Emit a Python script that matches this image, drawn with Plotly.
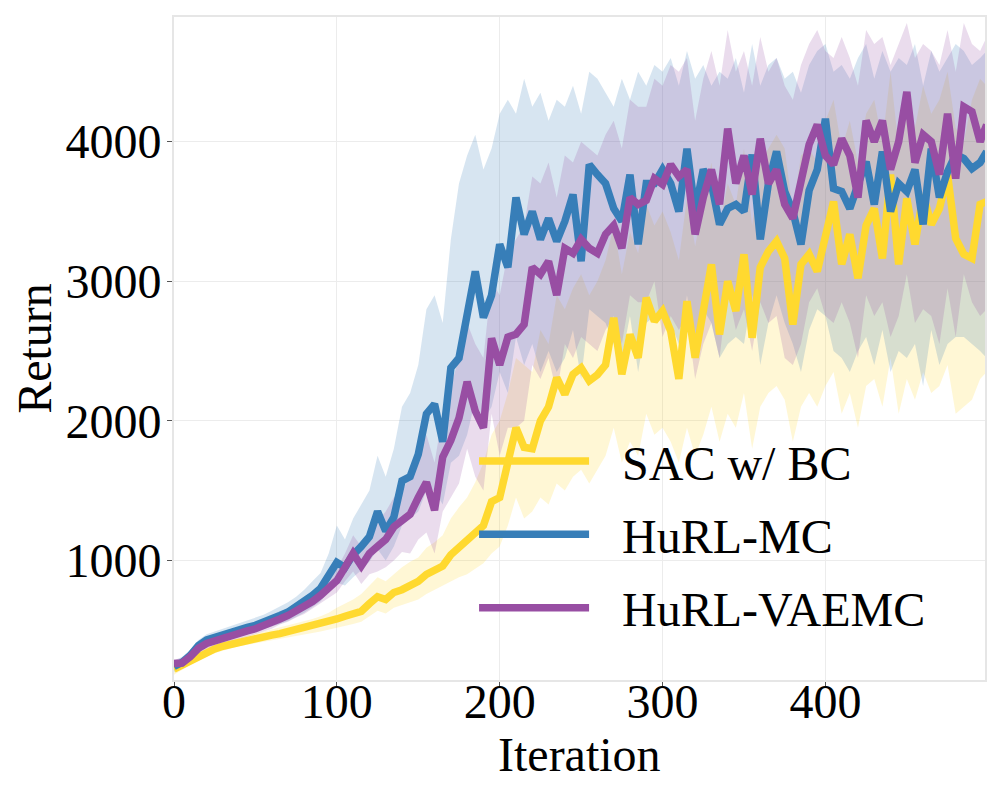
import plotly.graph_objects as go

# iterations sampled every 5 steps (plus the last one)
iters = list(range(0, 500, 5)) + [499]

# -----------------------------
# mean return per method
# -----------------------------
sac_bc = [220, 250, 280, 320, 345, 365, 385, 400, 415, 430, 440, 455, 465, 475, 490, 500, 510, 525, 545, 560,
          580, 600, 615, 635, 690, 740, 720, 770, 790, 820, 850, 900, 930, 960, 1040, 1090, 1140, 1190, 1250, 1420,
          1450, 1700, 1950, 1810, 1800, 2000, 2100, 2309, 2190, 2333, 2380, 2286, 2330, 2400, 2738, 2333, 2619, 2452, 2881, 2714,
          2786, 2643, 2300, 2857, 2452, 2786, 3121, 2619, 3000, 2786, 3193, 2595, 3100, 3214, 3286, 3164, 2690, 3121, 3193, 3071,
          3350, 3571, 3121, 3336, 3021, 3400, 3521, 3164, 3764, 3121, 3593, 3264, 3621, 3407, 3520, 3764, 3307, 3193, 3164, 3550, 3571]

hurl_mc = [240, 270, 320, 390, 430, 450, 465, 485, 500, 520, 535, 555, 580, 605, 630, 665, 700, 750, 800, 900,
           985, 950, 1040, 1100, 1170, 1350, 1210, 1310, 1570, 1600, 1760, 2050, 2120, 1850, 2380, 2450, 2740, 3070, 2740, 2900,
           3264, 3100, 3600, 3336, 3500, 3300, 3450, 3286, 3429, 3621, 3143, 3836, 3764, 3700, 3521, 3429, 3764, 3264, 3700, 3700,
           3800, 3700, 3500, 3950, 3500, 3800, 3700, 3407, 3521, 3550, 3500, 3907, 3300, 3700, 3929, 3643, 3500, 3264, 3650, 3800,
           4164, 3664, 3643, 3520, 3693, 3857, 3550, 3929, 3500, 3700, 3643, 3800, 3407, 3950, 3600, 3786, 3907, 3879, 3807, 3850, 3929]

hurl_vaemc = [262, 265, 310, 370, 405, 425, 440, 460, 475, 495, 510, 530, 550, 580, 605, 635, 665, 705, 750, 800,
              855, 950, 1050, 960, 1050, 1100, 1150, 1240, 1280, 1330, 1450, 1560, 1360, 1740, 1860, 2020, 2280, 2070, 1950, 2590,
              2400, 2600, 2620, 2690, 3100, 3050, 3143, 2900, 3236, 3200, 3300, 3236, 3200, 3336, 3400, 3236, 3600, 3550, 3580, 3736,
              3693, 3836, 3750, 3800, 3336, 3600, 3800, 3550, 4093, 3700, 3900, 3621, 4021, 3700, 3800, 3550, 3450, 3700, 3979, 4121,
              3900, 3836, 4021, 3900, 3600, 4150, 4000, 4150, 3800, 4000, 4357, 3850, 4050, 4000, 3764, 4200, 3736, 4250, 4214, 4000, 4121]

# -----------------------------
# shaded spread (upper / lower)
# -----------------------------
sac_bc_hi = [250, 285, 310, 350, 375, 395, 415, 430, 445, 460, 475, 490, 500, 515, 530, 545, 560, 580, 600, 625,
             660, 690, 720, 760, 820, 880, 850, 900, 950, 990, 1020, 1090, 1130, 1180, 1300, 1380, 1450, 1560, 1700, 1900,
             2000, 2200, 2450, 2400, 2350, 2650, 2550, 2900, 2800, 2950, 3050, 2900, 3000, 3150, 3400, 3050, 3350, 3200, 3550, 3400,
             3500, 3350, 3150, 3600, 3250, 3550, 3850, 3400, 3700, 3550, 3950, 3400, 3850, 3950, 4050, 3950, 3500, 3900, 3950, 3850,
             4150, 4300, 3950, 4150, 3850, 4200, 4300, 4000, 4500, 3950, 4350, 4100, 4400, 4200, 4300, 4500, 4100, 4000, 4300, 4450, 4400]
sac_bc_lo = [180, 215, 250, 290, 315, 335, 355, 370, 385, 400, 410, 420, 430, 440, 450, 460, 470, 480, 490, 505,
             520, 530, 545, 560, 600, 640, 620, 660, 680, 700, 720, 760, 790, 820, 850, 880, 900, 940, 980, 1050,
             1100, 1250, 1450, 1300, 1350, 1450, 1400, 1550, 1500, 1600, 1650, 1550, 1650, 1750, 1950, 1700, 1850, 1750, 2050, 1900,
             1950, 1850, 1700, 1950, 1750, 1900, 2100, 1850, 2050, 1950, 2200, 1800, 2100, 2200, 2250, 2150, 1850, 2100, 2200, 2100,
             2250, 2350, 2050, 2200, 1950, 2250, 2300, 2100, 2450, 2050, 2300, 2150, 2350, 2200, 2250, 2400, 2050, 2100, 2150, 2300, 2350]

hurl_mc_hi = [280, 310, 360, 430, 470, 490, 505, 525, 545, 565, 585, 610, 640, 670, 700, 740, 790, 850, 910, 1050,
              1250, 1150, 1300, 1400, 1500, 1750, 1600, 1800, 2100, 2200, 2400, 2800, 2900, 2700, 3300, 3700, 3900, 4050, 3800, 3950,
              4200, 4300, 4200, 4450, 4250, 4350, 4150, 4300, 4250, 4400, 4200, 4500, 4450, 4350, 4250, 4450, 4300, 4500, 4400, 4550,
              4500, 4600, 4400, 4650, 4450, 4550, 4400, 4500, 4450, 4600, 4350, 4700, 4400, 4550, 4600, 4450, 4500, 4350, 4550, 4650,
              4700, 4500, 4550, 4450, 4600, 4700, 4450, 4650, 4500, 4600, 4550, 4700, 4400, 4650, 4500, 4600, 4700, 4650, 4550, 4600, 4650]
hurl_mc_lo = [200, 230, 280, 350, 390, 410, 425, 445, 460, 475, 490, 505, 525, 545, 565, 595, 625, 665, 705, 780,
              840, 820, 880, 930, 990, 1080, 1000, 1100, 1250, 1300, 1350, 1500, 1500, 1400, 1700, 1750, 1900, 2150, 2000, 2100,
              2350, 2200, 2600, 2400, 2550, 2350, 2500, 2350, 2450, 2650, 2300, 2800, 2750, 2700, 2550, 2450, 2750, 2350, 2700, 2750,
              2800, 2700, 2550, 2900, 2550, 2800, 2700, 2450, 2550, 2600, 2550, 2900, 2400, 2700, 2900, 2700, 2550, 2350, 2650, 2800,
              2750, 2500, 2450, 2350, 2500, 2600, 2400, 2650, 2350, 2500, 2450, 2550, 2250, 2650, 2400, 2550, 2600, 2600, 2550, 2500, 2450]

hurl_vaemc_hi = [290, 300, 345, 410, 445, 465, 480, 500, 515, 535, 550, 570, 590, 620, 650, 680, 715, 760, 810, 870,
                 940, 1050, 1180, 1100, 1200, 1280, 1350, 1450, 1500, 1600, 1750, 1900, 1700, 2050, 2250, 2450, 2700, 2550, 2450, 3000,
                 2900, 3200, 3300, 3400, 3750, 3700, 3850, 3600, 3900, 3850, 4000, 3950, 3900, 4050, 4150, 3950, 4300, 4250, 4250, 4450,
                 4400, 4550, 4500, 4600, 4150, 4450, 4650, 4400, 4800, 4500, 4650, 4400, 4750, 4500, 4600, 4400, 4300, 4550, 4700, 4800,
                 4650, 4600, 4750, 4600, 4400, 4800, 4700, 4750, 4550, 4700, 4850, 4600, 4700, 4650, 4550, 4800, 4500, 4850, 4700, 4650, 4750]
hurl_vaemc_lo = [230, 235, 275, 330, 365, 385, 400, 420, 435, 455, 470, 490, 510, 540, 560, 590, 615, 650, 690, 730,
                 770, 850, 920, 830, 900, 920, 950, 1000, 1060, 1050, 1150, 1200, 1050, 1350, 1450, 1550, 1800, 1600, 1500, 2050,
                 1750, 1950, 1950, 2000, 2400, 2300, 2450, 2200, 2550, 2450, 2600, 2550, 2500, 2650, 2750, 2550, 2900, 2850, 2850, 3000,
                 2600, 2750, 2650, 2750, 2300, 2550, 2700, 2450, 2950, 2650, 2800, 2500, 2850, 2700, 2750, 2450, 2400, 2550, 2850, 2950,
                 2750, 2700, 2850, 2700, 2450, 2900, 2750, 2850, 2600, 2750, 3050, 2700, 2800, 2750, 2550, 2950, 2600, 3050, 2850, 2750, 2800]

series = [
    ("SAC w/ BC", sac_bc, sac_bc_hi, sac_bc_lo, "#ffd92f", "rgba(255,217,47,0.2)"),
    ("HuRL-MC", hurl_mc, hurl_mc_hi, hurl_mc_lo, "#377eb8", "rgba(55,126,184,0.2)"),
    ("HuRL-VAEMC", hurl_vaemc, hurl_vaemc_hi, hurl_vaemc_lo, "#984ea3", "rgba(152,78,163,0.2)"),
]

fig = go.Figure()

# shaded bands first
for name, mean, hi, lo, color, fill in series:
    fig.add_trace(go.Scatter(
        x=iters + iters[::-1],
        y=hi + lo[::-1],
        fill="toself",
        fillcolor=fill,
        line=dict(width=0),
        hoverinfo="skip",
        showlegend=False,
    ))

# then mean lines (en space + hair space pushes the label away from the swatch)
for name, mean, hi, lo, color, fill in series:
    fig.add_trace(go.Scatter(
        x=iters,
        y=mean,
        mode="lines",
        name="\u2002\u200a" + name,
        legendgroup=name,
        line=dict(color=color, width=7.5),
    ))

axis_style = dict(
    showline=True,
    linecolor="#e6e6e6",
    linewidth=2,
    mirror=True,
    showgrid=True,
    gridcolor="#ececec",
    gridwidth=1,
    ticks="outside",
    ticklen=5,
    tickcolor="#555555",
    zeroline=False,
    tickfont=dict(size=48),
    title_font=dict(size=48),
)

# page body has an 8px margin, so the figure is 8px smaller and the margins shifted
fig.update_layout(
    width=992,
    height=792,
    margin=dict(l=166, r=15, t=7, b=120),
    paper_bgcolor="white",
    plot_bgcolor="white",
    font=dict(family="Liberation Serif", color="black", size=48),
    legend=dict(
        x=0.37, y=0.051, xanchor="left", yanchor="bottom",
        bgcolor="rgba(0,0,0,0)",
        font=dict(size=48),
        itemwidth=110,
        traceorder="grouped",
        tracegroupgap=8,
    ),
)
fig.update_xaxes(axis_style, range=[0, 498], tickvals=[0, 100, 200, 300, 400],
                 ticklabelstandoff=-27)
fig.update_yaxes(axis_style, range=[143, 4893], tickvals=[1000, 2000, 3000, 4000],
                 ticklabelstandoff=-4, title_text="Return", title_standoff=8)

# x title placed by hand, closer to the tick labels than plotly's default
fig.add_annotation(
    text="Iteration", xref="paper", yref="paper",
    x=0.5, y=-0.113, xanchor="center", yanchor="middle",
    showarrow=False, font=dict(size=48),
)

fig.write_html("out.html")
